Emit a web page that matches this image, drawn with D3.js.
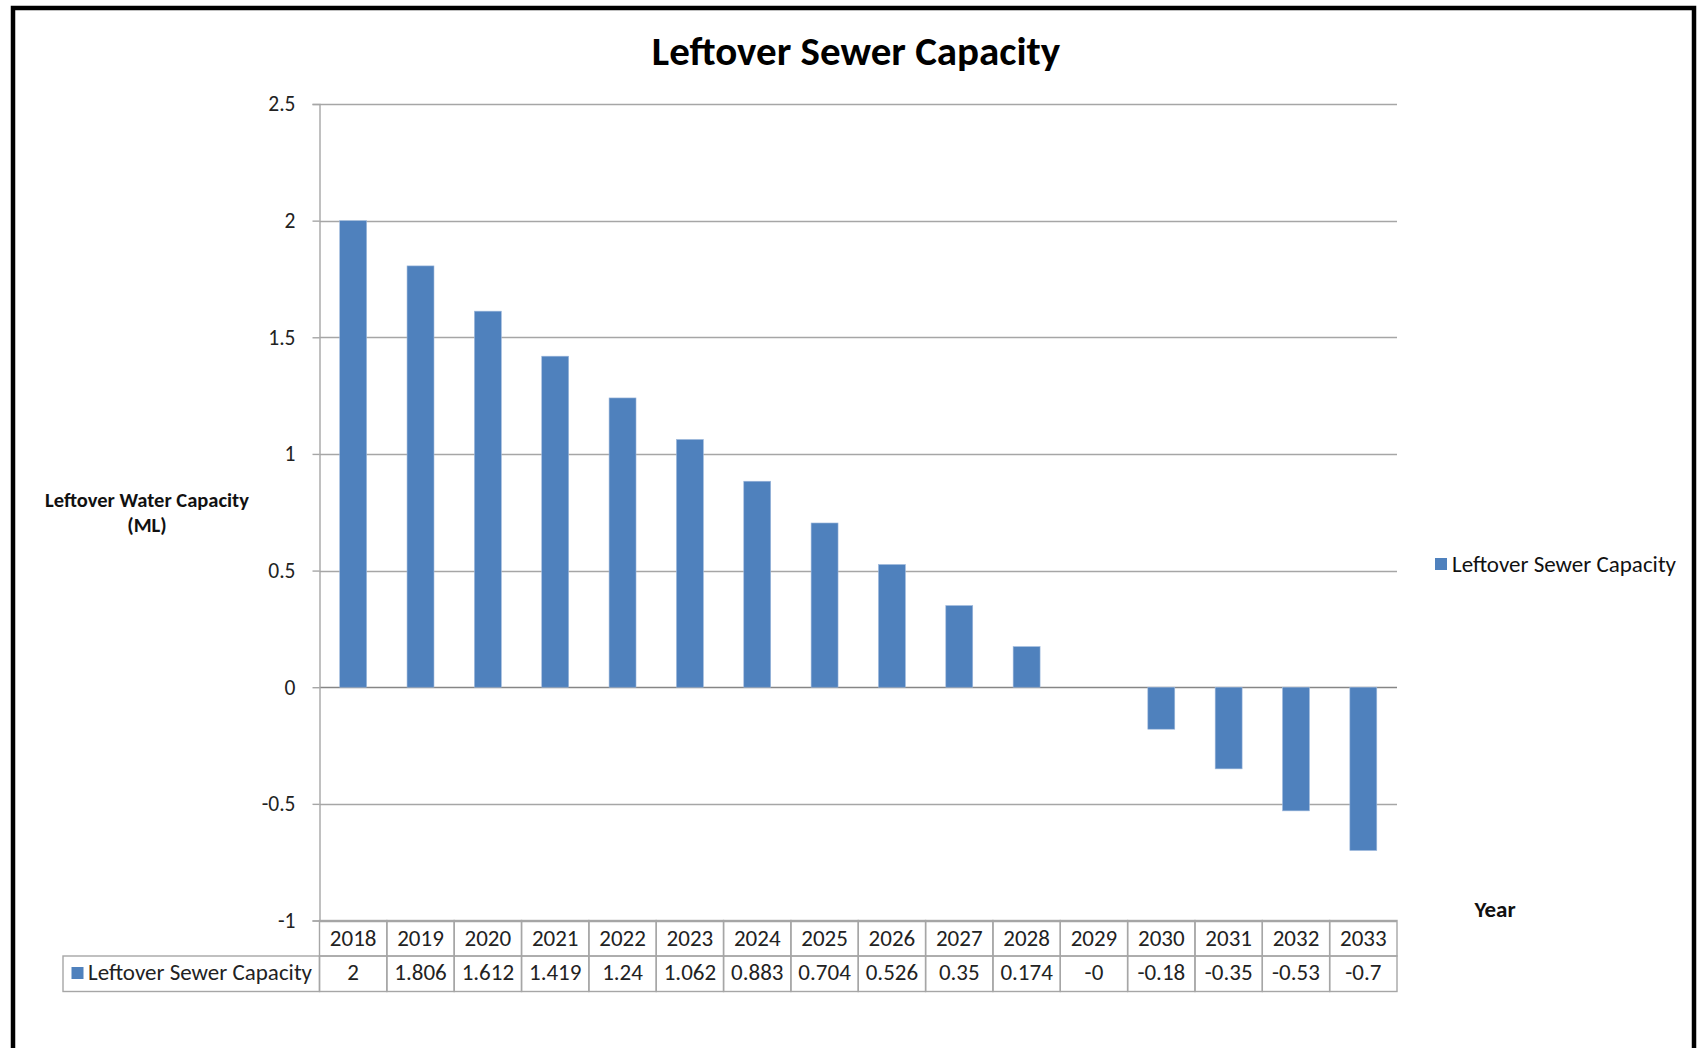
<!DOCTYPE html>
<html>
<head>
<meta charset="utf-8">
<script src="https://cdn.jsdelivr.net/npm/d3@7/dist/d3.min.js"></script>
<style>
  html, body { margin: 0; padding: 0; background: #fff; }
  svg { display: block; font-family: Calibri, Carlito, Lato, "Open Sans", sans-serif; }
</style>
</head>
<body>
<svg id="chart" width="1698" height="1048"></svg>
<script>
// Yearly leftover sewer capacity (ML)
const years = ["2018","2019","2020","2021","2022","2023","2024","2025","2026","2027","2028","2029","2030","2031","2032","2033"];
const capacity = [2, 1.806, 1.612, 1.419, 1.24, 1.062, 0.883, 0.704, 0.526, 0.35, 0.174, -0, -0.18, -0.35, -0.53, -0.7];
const yTicks = [2.5, 2, 1.5, 1, 0.5, 0, -0.5, -1];
const seriesName = "Leftover Sewer Capacity";
const chartTitle = "Leftover Sewer Capacity";
const yTitleLines = ["Leftover Water Capacity", "(ML)"];
const xTitle = "Year";

const W = 1698, H = 1048;
const plot = { left: 319.5, right: 1397, top: 104, bottom: 920.5 };
const barColor = "#4f81bd";
const gridColor = "#a6a6a6";
const textColor = "#111";

const svg = d3.select("#chart");
svg.append("rect").attr("width", W).attr("height", H).attr("fill", "#fff");

// outer frame
svg.append("rect")
  .attr("x", 13).attr("y", 8).attr("width", 1681).attr("height", 1100)
  .attr("fill", "none").attr("stroke", "#000").attr("stroke-width", 4.5);

const x = d3.scaleBand().domain(years).range([plot.left, plot.right]).paddingInner(0.6).paddingOuter(0.3);
const xCell = d3.scaleBand().domain(years).range([plot.left, plot.right]);
const y = d3.scaleLinear().domain([-1, 2.5]).range([plot.bottom, plot.top]);

// title
svg.append("text")
  .attr("x", 856).attr("y", 65)
  .attr("text-anchor", "middle")
  .attr("font-size", 41).attr("font-weight", "bold").attr("fill", "#000")
  .text(chartTitle);

// horizontal gridlines
svg.append("g")
  .selectAll("line").data(yTicks).join("line")
  .attr("x1", plot.left).attr("x2", plot.right)
  .attr("y1", d => Math.round(y(d)) + 0.5).attr("y2", d => Math.round(y(d)) + 0.5)
  .attr("stroke", d => d === 0 ? "#868686" : gridColor).attr("stroke-width", 1.4);

// y axis with outward ticks
const yAxis = d3.axisLeft(y).tickValues(yTicks).tickSize(7).tickPadding(17)
  .tickFormat(d => String(d));
const gy = svg.append("g").attr("transform", `translate(${plot.left},0)`).call(yAxis);
gy.select(".domain").attr("stroke", gridColor).attr("stroke-width", 1.4);
gy.selectAll(".tick line").attr("stroke", gridColor).attr("stroke-width", 1.4);
gy.selectAll(".tick text").attr("font-size", 21.5).attr("fill", "#222")
  .style("font-family", "Calibri, Carlito, Lato, sans-serif");

// bars
svg.append("g")
  .selectAll("rect").data(years.map((yr, i) => ({ yr, v: capacity[i] }))).join("rect")
  .attr("x", d => x(d.yr))
  .attr("width", x.bandwidth())
  .attr("y", d => y(Math.max(0, d.v)))
  .attr("height", d => Math.abs(y(d.v) - y(0)))
  .attr("fill", barColor)
  .attr("stroke", "#9fb9dc").attr("stroke-width", 0.6);

// y axis title
const yt = svg.append("text")
  .attr("text-anchor", "middle").attr("font-size", 20.5).attr("font-weight", "bold").attr("fill", textColor);
yTitleLines.forEach((t, i) => {
  yt.append("tspan").attr("x", 147).attr("y", 507 + i * 25).text(t);
});

// x axis title
svg.append("text")
  .attr("x", 1495).attr("y", 917).attr("text-anchor", "middle")
  .attr("font-size", 23).attr("font-weight", "bold").attr("fill", textColor)
  .text(xTitle);

// legend
const lg = svg.append("g");
lg.append("rect").attr("x", 1435).attr("y", 558).attr("width", 12).attr("height", 12).attr("fill", barColor);
lg.append("text").attr("x", 1452).attr("y", 572).attr("font-size", 23).attr("fill", textColor).text(seriesName);

// data table
const fmt = v => Object.is(v, -0) ? "-0" : String(v);
const tblTop = plot.bottom, rowH = 35.5, tblLeft = 63;
const tableStroke = "#a6a6a6";
const tableFont = 23;
const tg = svg.append("g");

// header cells (years)
tg.selectAll("rect.hdr").data(years).join("rect").attr("class", "hdr")
  .attr("x", d => xCell(d)).attr("y", tblTop).attr("width", xCell.bandwidth()).attr("height", rowH)
  .attr("fill", "none").attr("stroke", tableStroke).attr("stroke-width", 1.4);
tg.selectAll("text.hdr").data(years).join("text").attr("class", "hdr")
  .attr("x", d => xCell(d) + xCell.bandwidth() / 2).attr("y", tblTop + rowH / 2 + 8)
  .attr("text-anchor", "middle").attr("font-size", tableFont).attr("fill", "#222").text(d => d);

// value row
tg.append("rect").attr("x", tblLeft).attr("y", tblTop + rowH).attr("width", plot.left - tblLeft).attr("height", rowH)
  .attr("fill", "none").attr("stroke", tableStroke).attr("stroke-width", 1.4);
tg.append("rect").attr("x", 71.5).attr("y", tblTop + rowH + 11).attr("width", 12).attr("height", 12).attr("fill", barColor);
tg.append("text").attr("x", 88).attr("y", tblTop + rowH + rowH / 2 + 6.5)
  .attr("font-size", tableFont).attr("fill", "#222").text(seriesName);

tg.selectAll("rect.val").data(years).join("rect").attr("class", "val")
  .attr("x", d => xCell(d)).attr("y", tblTop + rowH).attr("width", xCell.bandwidth()).attr("height", rowH)
  .attr("fill", "none").attr("stroke", tableStroke).attr("stroke-width", 1.4);
tg.selectAll("text.val").data(capacity).join("text").attr("class", "val")
  .attr("x", (d, i) => xCell(years[i]) + xCell.bandwidth() / 2).attr("y", tblTop + rowH + rowH / 2 + 6.5)
  .attr("text-anchor", "middle").attr("font-size", tableFont).attr("fill", "#222").text(fmt);
</script>
</body>
</html>
